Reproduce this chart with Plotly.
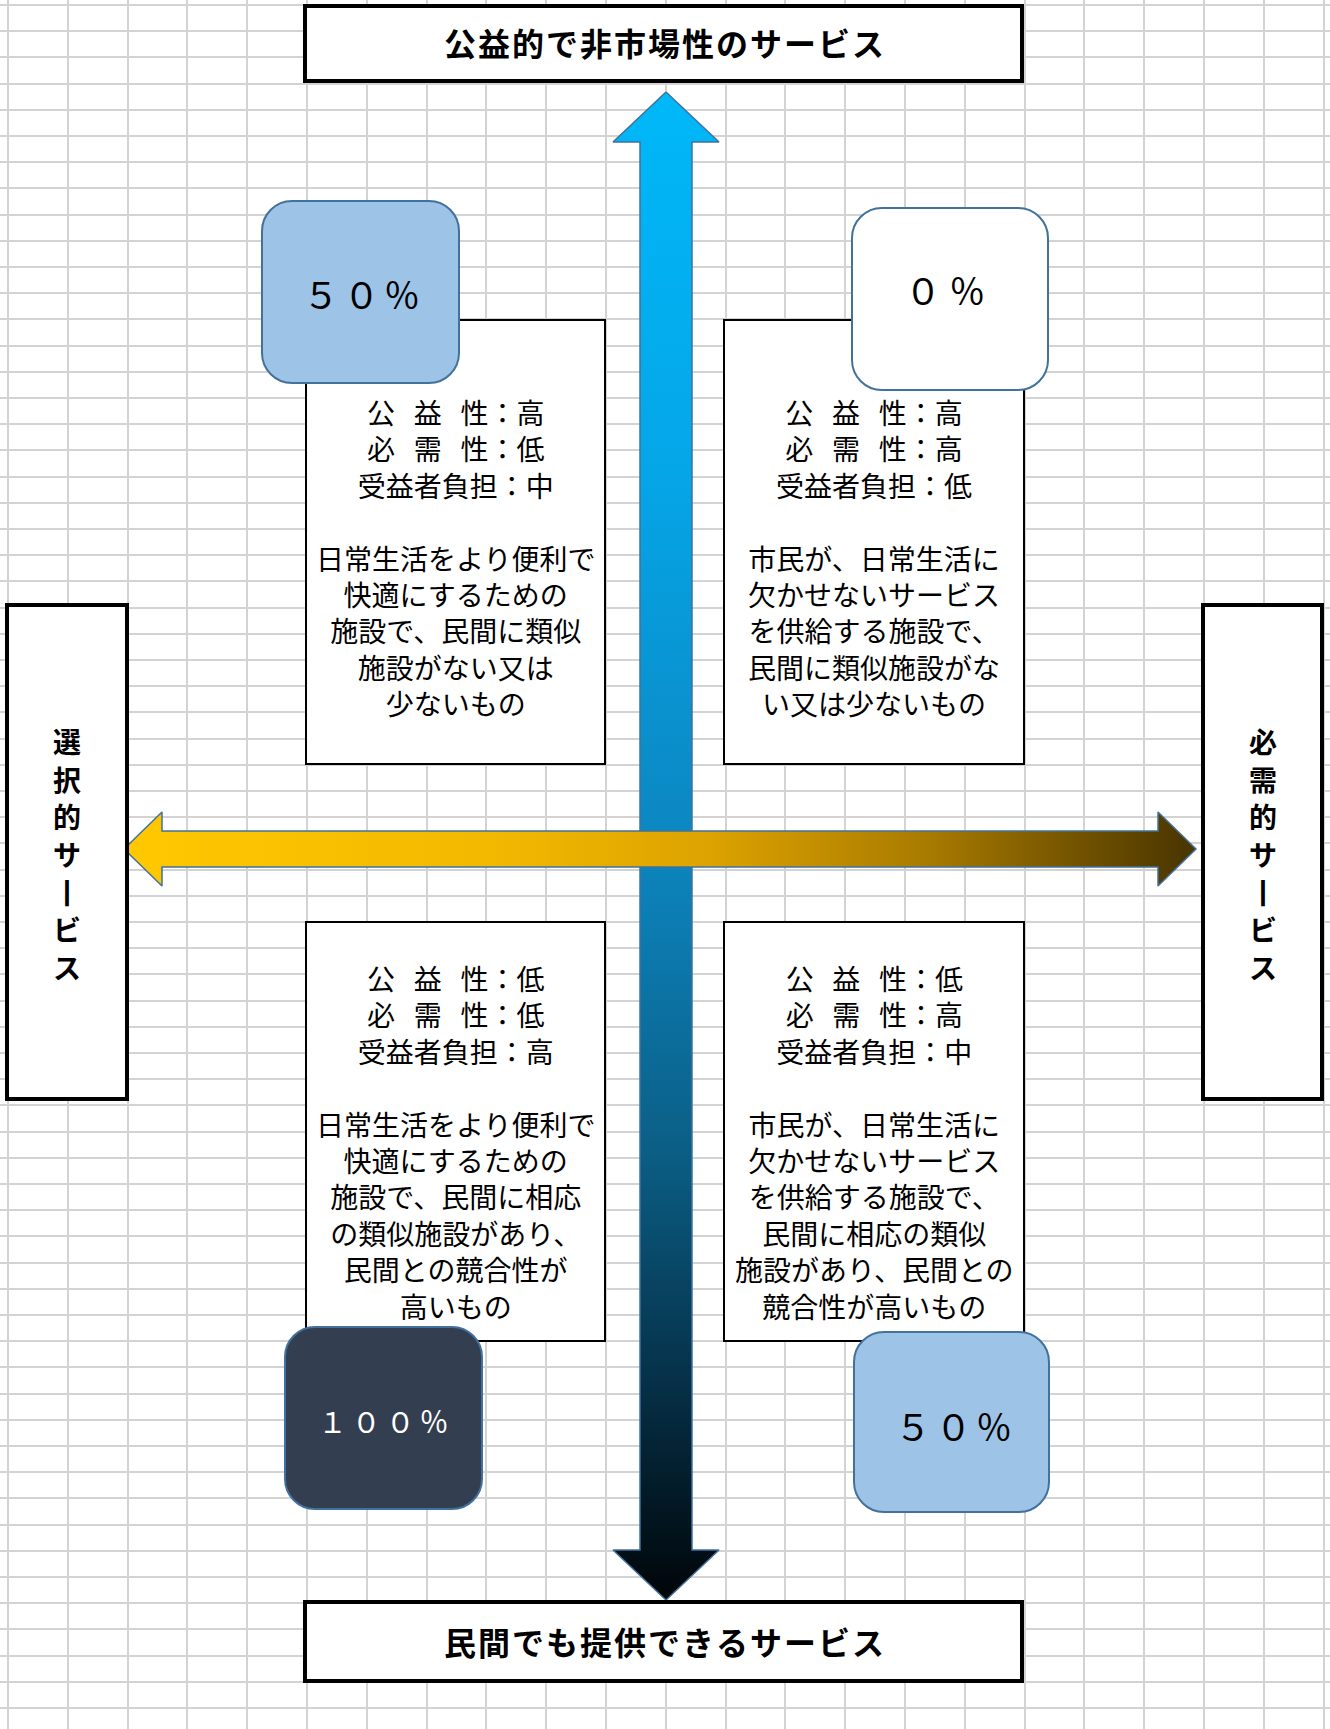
import plotly.graph_objects as go

# ---------------- data (text content) ----------------
title_top = "公益的で非市場性のサービス"
title_bottom = "民間でも提供できるサービス"
label_left = "選択的サービス"
label_right = "必需的サービス"

quadrants = ["左上", "右上", "左下", "右下"]
public_benefit = ["高", "高", "低", "低"]      # 公益性
necessity = ["低", "高", "低", "高"]           # 必需性
user_burden = ["中", "低", "高", "中"]         # 受益者負担
descriptions = [
    ["日常生活をより便利で", "快適にするための", "施設で、民間に類似", "施設がない又は", "少ないもの"],
    ["市民が、日常生活に", "欠かせないサービス", "を供給する施設で、", "民間に類似施設がな", "い又は少ないもの"],
    ["日常生活をより便利で", "快適にするための", "施設で、民間に相応", "の類似施設があり、", "民間との競合性が", "高いもの"],
    ["市民が、日常生活に", "欠かせないサービス", "を供給する施設で、", "民間に相応の類似", "施設があり、民間との", "競合性が高いもの"],
]
percent_labels = ["５０％", "０％", "１００％", "５０％"]

# ---------------- geometry / styles ----------------
W, H = 1330, 1729
FONT = "Noto Sans CJK JP, Noto Sans, sans-serif"
GRID_X0, GRID_DX = 8, 59.8
GRID_Y0, GRID_DY = 5, 26.2

text_boxes = [(306, 320, 605, 764), (724, 320, 1024, 764),
              (306, 922, 605, 1341), (724, 922, 1024, 1341)]
text_center_y = [557, 557, 1142, 1142]
pct_boxes = [(262, 201, 459, 383), (852, 208, 1048, 390),
             (285, 1327, 482, 1509), (854, 1332, 1049, 1512)]
pct_text_pos = [(361, 293), (945, 289), (383, 1420), (953, 1425)]
pct_fill = ["#9dc3e6", "#ffffff", "#333f50", "#9dc3e6"]
pct_font_color = ["#000000", "#000000", "#ffffff", "#000000"]
pct_font_size = [36, 36, 29, 36]
pct_gap = ["\u200a\u200a", "\u2006\u200a", "\u2006", "\u200a\u200a"]
OUTLINE = "#41719c"

fig = go.Figure()

# ---- arrows (gradient-filled polygons) ----
vx, vhw, vhead = 666, 26, 53          # vertical arrow center, half shaft, half head
vtop, vbot, vheadlen = 92, 1600, 50
vxs = [vx, vx + vhead, vx + vhw, vx + vhw, vx + vhead, vx, vx - vhead, vx - vhw, vx - vhw, vx - vhead, vx]
vys = [vtop, vtop + vheadlen, vtop + vheadlen, vbot - vheadlen, vbot - vheadlen, vbot,
       vbot - vheadlen, vbot - vheadlen, vtop + vheadlen, vtop + vheadlen, vtop]
fig.add_trace(go.Scatter(
    x=vxs, y=vys, mode="lines", fill="toself",
    line=dict(color=OUTLINE, width=1.5),
    fillgradient=dict(type="vertical", start=vtop, stop=vbot,
                      colorscale=[[0, "#00b8f8"], [0.25, "#05a6e8"], [0.5, "#0c86c0"],
                                  [0.7, "#0b5f86"], [0.85, "#06324a"], [1, "#000508"]]),
    hoverinfo="skip", showlegend=False))

hy, hhw, hhead = 849, 18, 37
hl, hr, hheadlen = 124, 1196, 38
hxs = [hl, hl + hheadlen, hl + hheadlen, hr - hheadlen, hr - hheadlen, hr,
       hr - hheadlen, hr - hheadlen, hl + hheadlen, hl + hheadlen, hl]
hys = [hy, hy - hhead, hy - hhw, hy - hhw, hy - hhead, hy, hy + hhead, hy + hhw, hy + hhw, hy + hhead, hy]
fig.add_trace(go.Scatter(
    x=hxs, y=hys, mode="lines", fill="toself",
    line=dict(color=OUTLINE, width=1.5),
    fillgradient=dict(type="horizontal", start=hl, stop=hr,
                      colorscale=[[0, "#ffc800"], [0.35, "#f2b800"], [0.55, "#dca200"],
                                  [0.75, "#a87a00"], [1, "#483400"]]),
    hoverinfo="skip", showlegend=False))

shapes = []

# ---- title boxes ----
for (x0, y0, x1, y1) in [(305, 6, 1022, 81), (305, 1602, 1022, 1681),
                         (7, 605, 127, 1099), (1203, 605, 1322, 1099)]:
    shapes.append(dict(type="rect", xref="x", yref="y", x0=x0, y0=y0, x1=x1, y1=y1,
                       line=dict(color="black", width=4), fillcolor="white", layer="above"))

# ---- quadrant text boxes ----
for (x0, y0, x1, y1) in text_boxes:
    shapes.append(dict(type="rect", xref="x", yref="y", x0=x0, y0=y0, x1=x1, y1=y1,
                       line=dict(color="black", width=2), fillcolor="white", layer="above"))


def rrect(x0, y0, x1, y1, r):
    k = 0.5523 * r
    return (f"M{x0 + r},{y0} L{x1 - r},{y0} C{x1 - r + k},{y0} {x1},{y0 + r - k} {x1},{y0 + r} "
            f"L{x1},{y1 - r} C{x1},{y1 - r + k} {x1 - r + k},{y1} {x1 - r},{y1} "
            f"L{x0 + r},{y1} C{x0 + r - k},{y1} {x0},{y1 - r + k} {x0},{y1 - r} "
            f"L{x0},{y0 + r} C{x0},{y0 + r - k} {x0 + r - k},{y0} {x0 + r},{y0} Z")


for (box, fc) in zip(pct_boxes, pct_fill):
    shapes.append(dict(type="path", xref="x", yref="y", path=rrect(*box, 30),
                       line=dict(color=OUTLINE, width=2), fillcolor=fc, layer="above"))

annotations = []


def ann(x, y, text, size, color="black"):
    annotations.append(dict(x=x, y=y, xref="x", yref="y", text=text, showarrow=False,
                            xanchor="center", yanchor="middle", align="center",
                            font=dict(family=FONT, size=size, color=color)))


ann(664, 42, "<b>" + "\u200a".join(title_top) + "</b>", 32)
ann(664, 1641, "<b>" + "\u200a".join(title_bottom) + "</b>", 32)

# vertical labels: one character per line, stacked
V_STEP = 37.7
for cx, label in [(67, label_left), (1263, label_right)]:
    n = len(label)
    for j, ch in enumerate(label):
        ch = "丨" if ch == "ー" else ch
        ann(cx, 854 + (j - (n - 1) / 2) * V_STEP, f"<b>{ch}</b>", 28)

sp = "\u2002\u2006"
for i in range(4):
    x0, y0, x1, y1 = text_boxes[i]
    lines = [f"公{sp}益{sp}性：{public_benefit[i]}",
             f"必{sp}需{sp}性：{necessity[i]}",
             f"受益者負担：{user_burden[i]}",
             ""] + descriptions[i]
    ann((x0 + x1) / 2, text_center_y[i], "<br>".join(lines), 28)

for i in range(4):
    tx, ty = pct_text_pos[i]
    ann(tx, ty, pct_gap[i].join(percent_labels[i]), pct_font_size[i], pct_font_color[i])

fig.update_layout(
    width=W, height=H, autosize=False,
    margin=dict(l=0, r=0, t=0, b=0, pad=0),
    paper_bgcolor="white", plot_bgcolor="white",
    shapes=shapes, annotations=annotations, showlegend=False,
    xaxis=dict(range=[0, W], showticklabels=False, zeroline=False, ticks="",
               tick0=GRID_X0, dtick=GRID_DX, showgrid=True, gridcolor="#d3d3d3", gridwidth=2,
               fixedrange=True),
    yaxis=dict(range=[H, 0], showticklabels=False, zeroline=False, ticks="",
               tick0=GRID_Y0, dtick=GRID_DY, showgrid=True, gridcolor="#d3d3d3", gridwidth=2,
               fixedrange=True),
)

fig.write_html("out.html")
